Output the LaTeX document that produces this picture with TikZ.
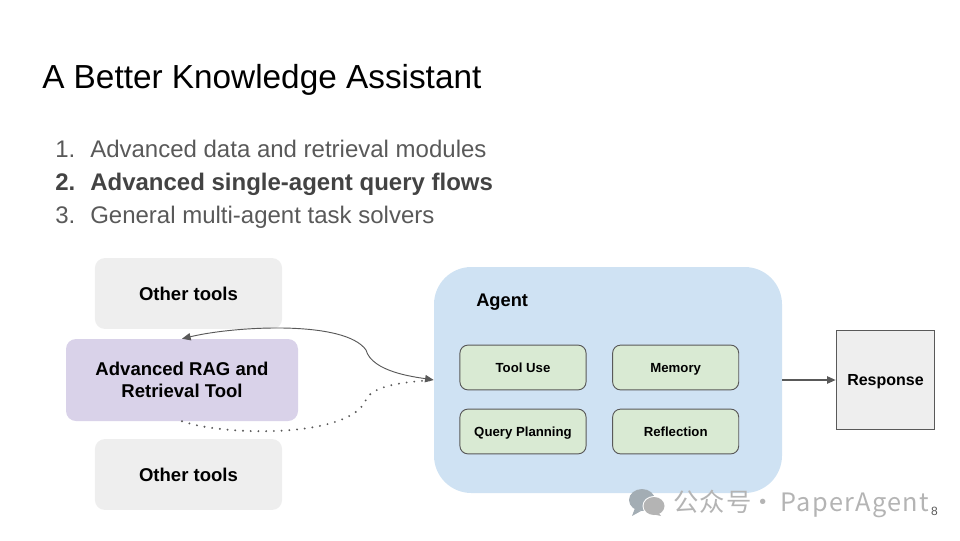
\documentclass[tikz,border=0pt]{standalone}
\usepackage{fontspec}
\setmainfont{Liberation Sans}
\newfontfamily\cjkwm[LetterSpace=5.2]{Noto Sans CJK SC}
\usepackage{xcolor}
\usetikzlibrary{arrows.meta,positioning,calc}
\definecolor{kaInk}{HTML}{000000}
\definecolor{kaGrey}{HTML}{595959}
\definecolor{kaBold}{HTML}{434343}
\definecolor{kaSoft}{HTML}{EEEEEE}
\definecolor{kaLilac}{HTML}{D9D2E9}
\definecolor{kaBlue}{HTML}{CFE2F3}
\definecolor{kaGreen}{HTML}{D9EAD3}
\definecolor{kaMark}{HTML}{B4B4B4}
\definecolor{kaMarkB}{HTML}{A3ADB4}
\tikzset{
  tool/.style={fill=kaSoft, rounded corners=7.5pt, minimum width=140.4pt, minimum height=53.2pt, inner sep=0pt, font=\bfseries\fontsize{13.9}{16}\selectfont, align=center},
  toolR/.style={tool, fill=kaLilac, minimum width=174pt, minimum height=61.5pt},
  sub/.style={draw=kaGrey, fill=kaGreen, line width=0.7pt, rounded corners=6pt, minimum width=94.6pt, minimum height=33.6pt, inner sep=0pt, text height=8pt, text depth=1pt, font=\bfseries\fontsize{9.9}{11}\selectfont},
  lst/.style={anchor=base west, inner sep=0pt, text=kaGrey, font=\fontsize{18}{22}\selectfont},
  arr/.style={-{Stealth[length=6.5pt,width=5.5pt,inset=0pt]}, draw=kaGrey, line width=0.7pt},
}
\begin{document}
\begin{tikzpicture}[x=0.75pt, y=-0.75pt]
  \useasboundingbox (0,0) rectangle (960,540);
  \node[anchor=base west, inner sep=0pt, font=\fontsize{25}{30}\selectfont] (title) at (42,88) {A Better Knowledge Assistant};
  % list
  \node[lst] (n1) at (55,157) {1.};
  \node[lst, text=kaBold] (n2) at (55,190) {\bfseries 2.};
  \node[lst] (n3) at (55,223) {3.};
  \node[lst] (l1) at (90,157) {Advanced data and retrieval modules};
  \node[lst, text=kaBold] (l2) at (90,190) {\bfseries Advanced single-agent query flows};
  \node[lst] (l3) at (90,223) {General multi-agent task solvers};
  % tools
  \node[tool] (top) at (188.5,293.5) {Other tools};
  \node[toolR] (rag) at (182,380) {Advanced RAG and\\Retrieval Tool};
  \node[tool] (bot) at (188.5,474.5) {Other tools};
  % agent
  \node[fill=kaBlue, rounded corners=28pt, minimum width=261pt, minimum height=169.5pt, inner sep=0pt] (agent) at (608,380) {};
  \node[anchor=base west, inner sep=0pt, font=\bfseries\fontsize{13.7}{16}\selectfont] (alabel) at (476,306) {Agent};
  \node[sub] (use) at (523,367.5) {Tool Use};
  \node[sub, right=19.2pt of use] (mem) {Memory};
  \node[sub] (plan) at (523,431.5) {Query Planning};
  \node[sub, right=19.2pt of plan] (refl) {Reflection};
  % response
  \node[draw=kaGrey, fill=kaSoft, line width=0.7pt, minimum size=74pt, inner sep=0pt, text height=9.6pt, text depth=1pt, font=\bfseries\fontsize{12}{14}\selectfont] (resp) at (885.5,380) {Response};
  % connectors
  \coordinate (turn) at (366,350);
  \draw[arr, {Stealth[length=6.5pt,width=5.5pt,inset=0pt]}-{Stealth[length=6.5pt,width=5.5pt,inset=0pt]}] (rag.north) .. controls (235,326) and (345,320) .. (turn) .. controls (372,372) and (415,377) .. (agent.west);
  \coordinate (bend) at (365,402);
  \draw[draw=kaGrey, line width=1.6pt, line cap=round, dash pattern=on 0pt off 5.8pt] (rag.south) .. controls (225,436) and (345,438) .. (bend) .. controls (370,385) and (405,382) .. (agent.west);
  \draw[arr, line width=1.2pt] (agent.east) -- (resp.west);
  % watermark
  \fill[kaMarkB] (642,500) ellipse (13 and 11);
  \fill[kaMarkB] (635,508) -- (632,516) -- (641,511) -- cycle;
  \fill[white] (654,506) ellipse (11.5 and 10);
  \fill[kaMark] (654,506) ellipse (10.5 and 9);
  \fill[kaMark] (658,512) -- (661,516) -- (652,514) -- cycle;
  \node[anchor=base west, inner sep=0pt, text=kaMark, font=\cjkwm\fontsize{19}{22}\selectfont] (mark) at (673,511) {公众号\hspace{-1pt}·\hspace{3.5pt}PaperAgent};
  \node[anchor=base east, inner sep=0pt, text=kaGrey, font=\fontsize{9}{11}\selectfont] (page) at (938,515) {8};
\end{tikzpicture}
\end{document}
